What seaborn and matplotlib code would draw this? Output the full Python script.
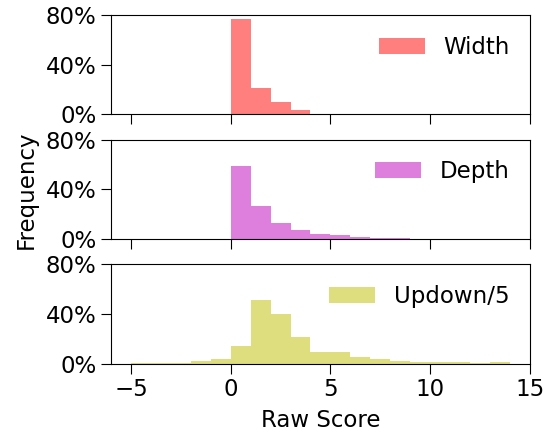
import numpy as np
import pandas as pd
import seaborn as sns
import matplotlib.pyplot as plt
from matplotlib.ticker import PercentFormatter

# bin edges of width 1 from -5 to 15
BIN_LEFT = list(range(-5, 15))

# frequency per bin (fraction)
width_freq = [0, 0, 0, 0, 0, 0.766, 0.21, 0.097, 0.032, 0.003,
              0, 0, 0, 0, 0, 0, 0, 0, 0, 0]
depth_freq = [0, 0, 0, 0, 0, 0.591, 0.269, 0.129, 0.073, 0.040,
              0.032, 0.019, 0.008, 0.008, 0.003, 0.003, 0, 0, 0, 0]
updown_freq = [0.008, 0.008, 0.008, 0.019, 0.040, 0.137, 0.51, 0.398, 0.212, 0.091,
               0.091, 0.056, 0.040, 0.024, 0.016, 0.016, 0.016, 0.008, 0.016, 0]

LABELS = ["Width", "Depth", "Updown/5"]
COLORS = ["r", "m", "y"]
FS = 16.5

sns.set_style("ticks")
plt.rcParams['font.family'] = ['DejaVu Sans']
plt.rcParams['font.size'] = FS
plt.rcParams['xtick.major.size'] = 7
plt.rcParams['ytick.major.size'] = 7
plt.rcParams['text.color'] = 'black'
plt.rcParams['axes.labelcolor'] = 'black'
plt.rcParams['xtick.color'] = 'black'
plt.rcParams['ytick.color'] = 'black'
plt.rcParams['axes.edgecolor'] = 'black'

fig, axes = plt.subplots(3, 1, sharex=True, figsize=(5.48, 4.34), dpi=100)
fig.subplots_adjust(left=0.2026, right=0.967, bottom=0.1624, top=0.9654, hspace=0.253)

for ax, freq, lab, col in zip(axes, [width_freq, depth_freq, updown_freq], LABELS, COLORS):
    df = pd.DataFrame({"score": np.array(BIN_LEFT) + 0.5, "freq": freq})
    sns.histplot(data=df, x="score", weights="freq", binwidth=1, binrange=(-5, 15),
                 color=col, alpha=0.5, linewidth=0, ax=ax, label=lab)
    ax.set_ylim(0, 0.8)
    ax.set_yticks([0, 0.4, 0.8])
    ax.yaxis.set_major_formatter(PercentFormatter(1.0, decimals=0))
    ax.set_ylabel("")
    ax.legend(loc="upper right", frameon=False, fontsize=FS)
    ax.tick_params(labelsize=FS)

axes[-1].set_xlim(-6, 15)
axes[-1].set_xticks([-5, 0, 5, 10, 15])
axes[-1].set_xlabel("Raw Score", fontsize=FS, labelpad=6)
axes[1].set_ylabel("Frequency", fontsize=FS, labelpad=6)

plt.savefig("out.png", dpi=100)
